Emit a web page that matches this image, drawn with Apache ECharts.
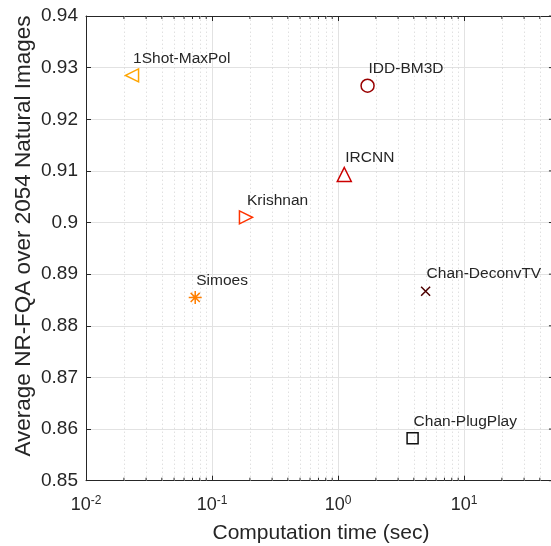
<!DOCTYPE html>
<html>
<head>
<meta charset="utf-8">
<script src="https://cdn.jsdelivr.net/npm/echarts@6/dist/echarts.min.js"></script>
<style>
html,body{margin:0;padding:0;background:#fff;overflow:hidden;width:551px;height:546px;}
#c{width:600px;height:546px;}
</style>
</head>
<body>
<div id="c"></div>
<script>
// ---- data ----
const methods = ['1Shot-MaxPol', 'IDD-BM3D', 'IRCNN', 'Krishnan', 'Simoes', 'Chan-DeconvTV', 'Chan-PlugPlay'];
const compTime = [0.0232, 1.717, 1.122, 0.186, 0.0736, 4.96, 3.91];
const nrfqa = [0.9285, 0.9265, 0.9093, 0.9010, 0.8855, 0.8867, 0.8582];
const xMajorDecades = [0.01, 0.1, 1, 10];
const xMinorMultipliers = [2, 3, 4, 5, 6, 7, 8, 9];
const yTicks = [0.85, 0.86, 0.87, 0.88, 0.89, 0.90, 0.91, 0.92, 0.93, 0.94];
const yMin = 0.85, yMax = 0.94, yStep = 0.01;
const xMin = 0.01, xMax = 93;
const xFrameRight = 53.7; // where the (cropped) right frame of the original figure sits
const xTitle = 'Computation time (sec)';
const yTitle = 'Average NR-FQA over 2054 Natural Images';

// ---- styles ----
const markerSymbols = ['triangle', 'circle', 'triangle', 'triangle',
  'path://M0 -10 L0 10 M-10 0 L10 0 M-7 -7 L7 7 M-7 7 L7 -7',
  'path://M-10 -10 L10 10 M-10 10 L10 -10', 'rect'];
const markerRotate = [90, 0, 0, -90, 0, 0, 0];
const markerColors = ['#FFA500', '#990000', '#CC0000', '#FF3300', '#FF7F00', '#4D0000', '#111111'];
const markerSizes = [13, 13, 14, 13, 13, 9, 11];

const minorTicks = [];
xMajorDecades.forEach(d => xMinorMultipliers.forEach(m => { const v = d * m; if (v < 45) minorTicks.push(v); }));

const FONT = 'Liberation Sans, Arial, Helvetica, sans-serif';
const AX = '#262626';

const chart = echarts.init(document.getElementById('c'), null, {renderer: 'canvas'});

const series = methods.map((name, i) => ({
  type: 'scatter',
  name: name,
  data: [[compTime[i], nrfqa[i]]],
  symbol: markerSymbols[i],
  symbolRotate: markerRotate[i],
  symbolSize: markerSizes[i],
  itemStyle: {color: 'rgba(0,0,0,0)', borderColor: markerColors[i], borderWidth: 1.5, opacity: 1},
  label: {
    show: true, formatter: name, position: 'inside', align: 'left', verticalAlign: 'middle',
    offset: [1, -17], color: AX, fontFamily: FONT, fontSize: 15.5
  },
  emphasis: {disabled: true},
  z: 5
}));

// minor dotted grid lines (log minors)
series.push({
  type: 'scatter', data: [], silent: true,
  markLine: {
    silent: true, symbol: 'none', label: {show: false},
    lineStyle: {color: '#d2d2d2', width: 1, type: [1, 3]},
    data: minorTicks.map(v => ({xAxis: v})),
    animation: false
  }
});

// minor tick marks (inward) on bottom and top axes
series.push({
  type: 'custom', silent: true, z: 6,
  data: minorTicks.map(v => [v]),
  renderItem: function (params, api) {
    const b = api.coord([api.value(0), yMin]);
    const t = api.coord([api.value(0), yMax]);
    return {
      type: 'group', children: [
        {type: 'line', shape: {x1: b[0], y1: b[1], x2: b[0], y2: b[1] - 3}, style: {stroke: AX, lineWidth: 1}},
        {type: 'line', shape: {x1: t[0], y1: t[1], x2: t[0], y2: t[1] + 3}, style: {stroke: AX, lineWidth: 1}}
      ]
    };
  }
});

// inward tick marks of the cropped right frame
series.push({
  type: 'custom', silent: true, z: 6,
  data: yTicks.map(v => [xFrameRight, v]),
  renderItem: function (params, api) {
    const p = api.coord([api.value(0), api.value(1)]);
    return {type: 'line', shape: {x1: p[0], y1: p[1], x2: p[0] - 7, y2: p[1]}, style: {stroke: AX, lineWidth: 1}};
  }
});

function expLabel(v) {
  const e = Math.log10(v);
  if (Math.abs(e - Math.round(e)) > 1e-6) return '';
  return '{b|10}{s|' + Math.round(e) + '}';
}

chart.setOption({
  animation: false,
  backgroundColor: '#fff',
  grid: {left: 86, top: 16, width: 500, height: 464.7, containLabel: false, outerBoundsMode: 'none'},
  graphic: [{
    type: 'text', x: 24, y: 236, rotation: Math.PI / 2,
    style: {text: yTitle, fontFamily: FONT, fontSize: 22.5, fill: AX, align: 'center', verticalAlign: 'middle'}
  }, {
    type: 'text', x: 321, y: 533,
    style: {text: xTitle, fontFamily: FONT, fontSize: 21, fill: AX, align: 'center', verticalAlign: 'middle'}
  }],
  xAxis: [{
    type: 'log', logBase: 10, min: xMin, max: xMax, position: 'bottom',
    axisLine: {show: true, lineStyle: {color: AX, width: 1}},
    axisTick: {show: true, inside: true, length: 5, lineStyle: {color: AX}},
    axisLabel: {
      formatter: expLabel, margin: 14, color: AX,
      rich: {
        b: {fontFamily: FONT, fontSize: 18, color: AX},
        s: {fontFamily: FONT, fontSize: 12, color: AX, padding: [0, 0, 9, 0]}
      }
    },
    splitLine: {show: true, lineStyle: {color: '#e2e2e2', width: 1}},
    minorTick: {show: false}
  }, {
    type: 'log', logBase: 10, min: xMin, max: xMax, position: 'top',
    axisLine: {show: true, lineStyle: {color: AX, width: 1}},
    axisTick: {show: true, inside: true, length: 5, lineStyle: {color: AX}},
    axisLabel: {show: false},
    splitLine: {show: false}
  }],
  yAxis: [{
    type: 'value', min: yMin, max: yMax, interval: yStep, position: 'left',
    axisLine: {show: true, lineStyle: {color: AX, width: 1}},
    axisTick: {show: true, inside: true, length: 5, lineStyle: {color: AX}},
    axisLabel: {formatter: v => String(+v.toFixed(2)), margin: 8, color: AX, fontFamily: FONT, fontSize: 19},
    splitLine: {show: true, lineStyle: {color: '#e2e2e2', width: 1}}
  }],
  series: series
});
</script>
</body>
</html>
